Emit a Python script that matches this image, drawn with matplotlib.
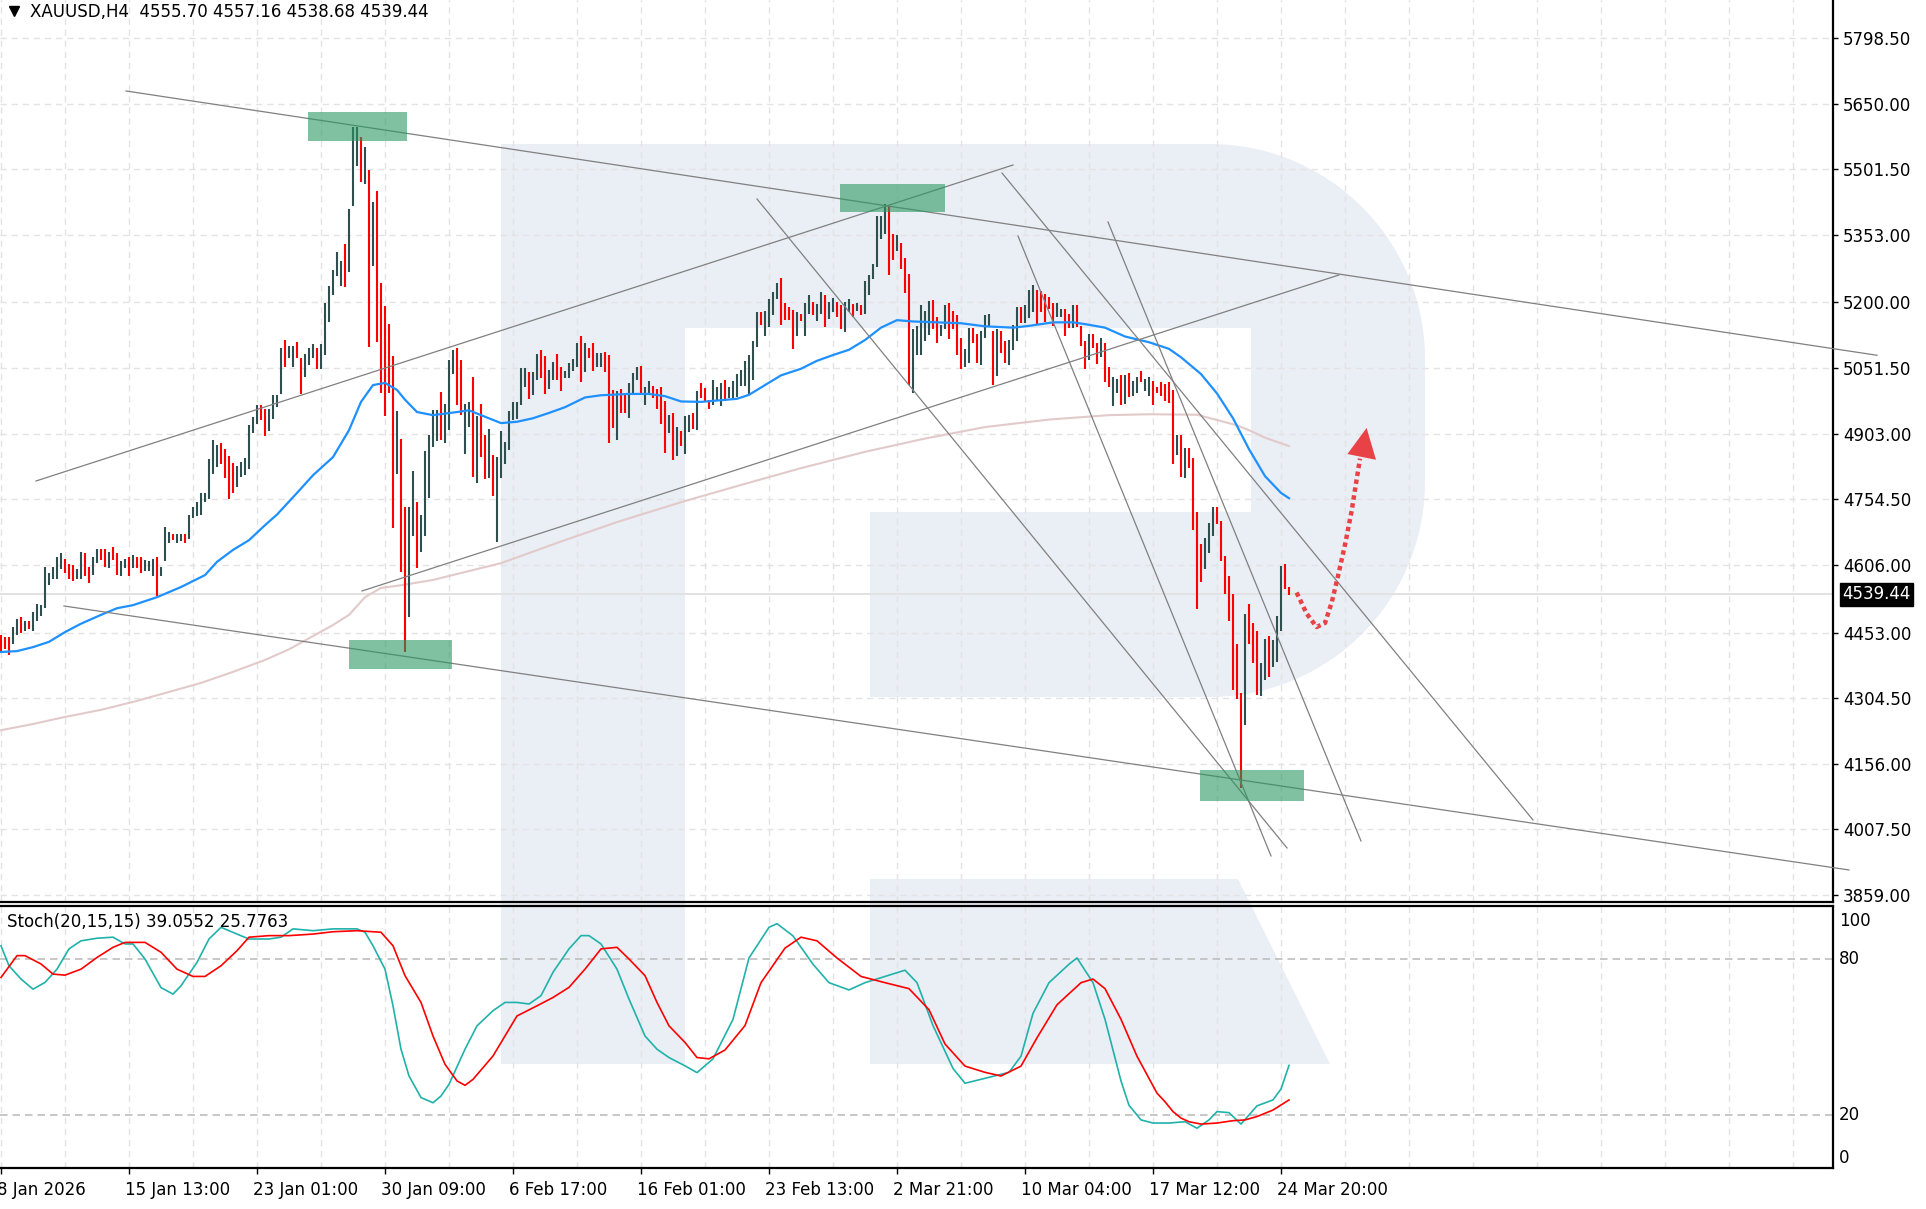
import matplotlib
matplotlib.use("Agg")
import matplotlib.pyplot as plt
import matplotlib.transforms as mtransforms
from matplotlib.patches import Rectangle, Polygon
import numpy as np

plt.rcParams['font.family'] = ['DejaVu Sans']

# ---------------- data ----------------
title_text = "XAUUSD,H4  4555.70 4557.16 4538.68 4539.44"
stoch_text = "Stoch(20,15,15) 39.0552 25.7763"
last_price = 4539.44
last_price_label = "4539.44"

bar_high = [
    4447, 4442, 4442, 4465, 4483, 4488, 4479, 4479, 4500, 4518,
    4516, 4601, 4587, 4601, 4623, 4633, 4619, 4609, 4605, 4597,
    4636, 4633, 4601, 4623, 4641, 4641, 4641, 4636, 4646, 4633,
    4615, 4620, 4623, 4628, 4623, 4623, 4617, 4615, 4620, 4623,
    4601, 4691, 4681, 4677, 4677, 4677, 4677, 4718, 4736, 4749,
    4769, 4768, 4845, 4889, 4878, 4882, 4868, 4853, 4837, 4831,
    4839, 4849, 4922, 4940, 4967, 4967, 4960, 4959, 4990, 4990,
    5098, 5115, 5102, 5102, 5110, 5075, 5084, 5098, 5107, 5098,
    5107, 5198, 5238, 5273, 5314, 5294, 5332, 5412, 5597, 5597,
    5575, 5552, 5500, 5427, 5453, 5245, 5192, 5152, 5079, 4954,
    4891, 4738, 4736, 4819, 4749, 4720, 4863, 4900, 4957, 4957,
    4998, 4970, 5070, 5092, 5098, 5070, 4970, 4975, 5032, 4942,
    4971, 4900, 4913, 4855, 4851, 4909, 4885, 4954, 4975, 4975,
    5052, 5052, 5042, 5042, 5084, 5092, 5079, 5048, 5065, 5084,
    5053, 5046, 5063, 5072, 5109, 5125, 5108, 5098, 5108, 5085,
    5085, 5089, 5080, 5003, 5000, 5004, 4993, 5018, 5040, 5054,
    5057, 5008, 5023, 5012, 5004, 5008, 4978, 4945, 4950, 4918,
    4909, 4943, 4945, 4950, 5000, 5018, 5007, 4980, 5025, 5008,
    5018, 5025, 5008, 5023, 5037, 5048, 5068, 5082, 5112, 5179,
    5179, 5181, 5207, 5224, 5243, 5256, 5198, 5190, 5183, 5179,
    5175, 5198, 5216, 5201, 5196, 5224, 5216, 5201, 5211, 5201,
    5194, 5201, 5208, 5196, 5198, 5194, 5248, 5262, 5288, 5396,
    5396, 5423, 5419, 5355, 5352, 5335, 5300, 5265, 5140, 5147,
    5194, 5180, 5203, 5205, 5167, 5149, 5194, 5198, 5180, 5171,
    5120, 5095, 5143, 5143, 5128, 5136, 5172, 5174, 5136, 5140,
    5136, 5112, 5116, 5149, 5190, 5190, 5195, 5229, 5239, 5229,
    5225, 5219, 5213, 5198, 5198, 5186, 5185, 5174, 5194, 5194,
    5147, 5112, 5128, 5128, 5109, 5120, 5109, 5053, 5031, 5027,
    5035, 5035, 5040, 5022, 5031, 5045, 5027, 5031, 5022, 5009,
    5019, 5016, 5019, 5002, 4901, 4901, 4870, 4870, 4847, 4725,
    4653, 4667, 4702, 4738, 4738, 4706, 4627, 4582, 4541, 4427,
    4317, 4496, 4518, 4475, 4456, 4384, 4438, 4446, 4436, 4490,
    4603, 4609, 4557,
]
bar_low = [
    4411, 4416, 4403, 4426, 4448, 4452, 4457, 4461, 4457, 4480,
    4490, 4508, 4561, 4574, 4575, 4597, 4588, 4574, 4570, 4575,
    4575, 4580, 4565, 4583, 4610, 4617, 4601, 4598, 4617, 4583,
    4580, 4598, 4580, 4598, 4598, 4588, 4592, 4592, 4580, 4535,
    4580, 4615, 4656, 4662, 4656, 4661, 4656, 4664, 4712, 4716,
    4720, 4749, 4755, 4812, 4827, 4835, 4802, 4755, 4769, 4782,
    4806, 4810, 4823, 4905, 4926, 4934, 4897, 4909, 4936, 4964,
    4992, 5054, 5075, 5054, 5075, 4992, 5032, 5059, 5075, 5049,
    5049, 5081, 5156, 5217, 5260, 5238, 5234, 5269, 5418, 5508,
    5472, 5468, 5099, 5283, 5111, 4994, 4942, 4995, 4690, 4811,
    4591, 4409, 4488, 4671, 4599, 4636, 4672, 4757, 4874, 4886,
    4888, 4882, 4911, 5038, 4969, 4946, 4856, 4919, 4805, 4792,
    4851, 4801, 4802, 4761, 4657, 4803, 4834, 4865, 4934, 4937,
    4969, 5009, 4982, 4990, 5025, 5030, 4992, 5005, 5025, 5024,
    5000, 5028, 5029, 5046, 5055, 5019, 5043, 5074, 5046, 5055,
    5053, 5042, 4883, 4917, 4889, 4950, 4950, 4938, 4992, 5024,
    4995, 4969, 4992, 4984, 4960, 4924, 4860, 4905, 4843, 4853,
    4875, 4857, 4907, 4913, 4911, 4983, 4975, 4960, 4969, 4978,
    4965, 4978, 4983, 4983, 4986, 5010, 5010, 4992, 5025, 5100,
    5149, 5123, 5145, 5172, 5207, 5149, 5160, 5160, 5095, 5123,
    5158, 5123, 5175, 5172, 5158, 5175, 5145, 5163, 5179, 5168,
    5140, 5133, 5179, 5168, 5181, 5172, 5175, 5217, 5254, 5280,
    5343, 5355, 5262, 5295, 5316, 5275, 5221, 5014, 4996, 5081,
    5081, 5112, 5126, 5140, 5109, 5123, 5140, 5118, 5141, 5081,
    5050, 5054, 5064, 5109, 5064, 5058, 5120, 5146, 5014, 5033,
    5085, 5064, 5058, 5092, 5112, 5154, 5154, 5164, 5178, 5151,
    5178, 5155, 5186, 5147, 5167, 5167, 5123, 5143, 5143, 5145,
    5101, 5050, 5070, 5097, 5060, 5076, 5019, 5009, 4965, 4996,
    4969, 4971, 4985, 4988, 4996, 5019, 5000, 4988, 4969, 4996,
    4988, 4977, 4973, 4834, 4854, 4806, 4802, 4826, 4686, 4506,
    4568, 4597, 4634, 4671, 4699, 4614, 4541, 4479, 4322, 4303,
    4101, 4244, 4427, 4384, 4312, 4309, 4345, 4353, 4376, 4386,
    4456, 4552, 4539,
]
bar_up = [
    0, 0, 0, 1, 1, 0, 1, 0, 1, 1,
    1, 1, 1, 1, 1, 1, 0, 0, 0, 1,
    1, 0, 0, 1, 1, 0, 0, 1, 0, 0,
    1, 1, 0, 1, 0, 0, 1, 1, 1, 0,
    1, 1, 1, 0, 1, 1, 0, 1, 1, 1,
    1, 1, 1, 1, 1, 0, 0, 0, 0, 1,
    1, 1, 1, 1, 1, 0, 0, 1, 1, 1,
    1, 0, 1, 1, 0, 0, 1, 1, 1, 0,
    1, 1, 1, 1, 1, 1, 0, 1, 1, 1,
    0, 1, 0, 1, 0, 0, 0, 0, 0, 1,
    0, 0, 1, 1, 0, 1, 1, 1, 1, 1,
    0, 1, 1, 1, 0, 0, 1, 1, 0, 1,
    0, 0, 1, 0, 1, 1, 1, 1, 1, 1,
    1, 1, 0, 1, 1, 0, 0, 1, 1, 0,
    0, 1, 1, 1, 1, 0, 1, 0, 0, 1,
    1, 0, 0, 0, 1, 0, 0, 1, 1, 1,
    0, 1, 1, 0, 0, 0, 0, 1, 0, 1,
    0, 1, 1, 0, 1, 0, 0, 0, 1, 1,
    1, 0, 1, 1, 1, 1, 1, 1, 1, 1,
    0, 1, 1, 1, 1, 0, 0, 0, 0, 1,
    0, 1, 1, 0, 1, 1, 0, 1, 1, 0,
    0, 1, 1, 0, 1, 0, 1, 1, 1, 1,
    1, 1, 0, 0, 1, 0, 0, 0, 1, 1,
    1, 1, 1, 0, 0, 1, 1, 0, 0, 0,
    0, 1, 1, 0, 0, 1, 1, 1, 0, 1,
    0, 0, 1, 1, 1, 0, 1, 1, 1, 0,
    0, 0, 0, 0, 1, 1, 0, 0, 1, 0,
    0, 0, 1, 0, 0, 1, 0, 0, 1, 1,
    0, 1, 0, 1, 1, 0, 1, 1, 0, 0,
    0, 0, 0, 0, 1, 0, 1, 0, 0, 0,
    0, 1, 1, 1, 0, 0, 0, 0, 0, 0,
    0, 1, 0, 0, 0, 1, 1, 0, 1, 1,
    1, 0, 0,
]

# moving averages (bar index, price)
ma_fast_x = [0, 4, 8, 12, 16, 20, 25, 29, 33, 39, 45, 51, 54, 58, 62, 66, 69, 74, 78,
             83, 87, 90, 93, 96, 99, 101, 104, 108, 114, 117, 120, 125, 129, 133, 137,
             141, 146, 150, 157, 162, 166, 170, 175, 179, 184, 187, 191, 195, 200, 204,
             208, 212, 216, 220, 224, 228, 234, 240, 246, 253, 257, 263, 268, 271, 276,
             281, 287, 292, 295, 300, 304, 308, 312, 316, 320, 322]
ma_fast_y = [4409, 4411, 4420, 4432, 4454, 4473, 4493, 4508, 4515, 4533, 4556, 4583,
             4613, 4640, 4662, 4696, 4720, 4769, 4809, 4850, 4911, 4975, 5013, 5018,
             5002, 4980, 4952, 4945, 4952, 4956, 4945, 4927, 4930, 4938, 4950, 4963,
             4985, 4990, 4993, 4993, 4988, 4976, 4975, 4978, 4982, 4991, 5013, 5035,
             5050, 5068, 5081, 5093, 5115, 5143, 5160, 5157, 5155, 5153, 5146, 5143,
             5147, 5155, 5155, 5151, 5143, 5123, 5110, 5095, 5076, 5038, 4994, 4938,
             4868, 4807, 4769, 4757]

ma_slow_x = [0, 8, 16, 25, 33, 41, 50, 58, 66, 72, 75, 83, 87, 91, 95, 100, 108, 116,
             125, 140, 154, 170, 185, 200, 216, 231, 246, 262, 277, 287, 299, 304, 309,
             312, 316, 322]
ma_slow_y = [4232, 4246, 4262, 4278, 4296, 4316, 4339, 4364, 4391, 4415, 4430, 4470,
             4493, 4533, 4554, 4560, 4572, 4590, 4610, 4659, 4703, 4748, 4787, 4825,
             4862, 4892, 4918, 4935, 4945, 4947, 4946, 4934, 4922, 4911, 4894, 4875]

# stochastic (bar index, value)
stoch_main_x = [0, 2, 5, 8, 11, 14, 17, 20, 24, 28, 31, 33, 36, 40, 43, 45, 49, 52, 55,
                59, 62, 67, 70, 73, 78, 83, 89, 91, 93, 96, 98, 100, 102, 105, 108, 110,
                112, 116, 119, 123, 126, 129, 132, 135, 138, 142, 145, 147, 150, 154,
                157, 161, 164, 167, 171, 174, 178, 183, 187, 192, 194, 198, 203, 207,
                212, 216, 221, 226, 229, 233, 238, 241, 246, 252, 255, 258, 262, 267,
                269, 273, 276, 280, 282, 284, 285, 288, 292, 296, 299, 302, 304, 307,
                310, 312, 314, 318, 320, 322]
stoch_main_y = [85.1, 77.4, 72.3, 68.4, 71.0, 76.1, 83.9, 87.0, 88.0, 88.4, 85.8, 85.8,
                80.0, 69.0, 66.5, 69.7, 78.7, 87.7, 92.2, 89.6, 87.7, 87.7, 88.4, 91.6,
                90.9, 91.6, 91.6, 90.3, 85.1, 76.1, 62.0, 45.3, 35.0, 26.7, 24.7, 27.3,
                31.8, 45.3, 54.3, 60.1, 63.3, 63.3, 62.7, 65.9, 74.9, 83.9, 89.0, 89.0,
                85.8, 76.1, 64.6, 50.4, 45.3, 42.1, 38.9, 36.3, 41.6, 56.8, 80.4, 92.2,
                93.6, 88.9, 78.0, 70.9, 68.1, 70.9, 73.3, 75.7, 70.9, 54.4, 37.9, 32.2,
                34.1, 36.4, 42.6, 59.1, 70.9, 78.0, 80.4, 70.9, 56.8, 33.1, 23.7, 20.0,
                18.1, 16.9, 16.9, 17.4, 14.9, 18.1, 21.3, 20.9, 16.5, 20.0, 23.5, 25.8,
                30.0, 39.06]
stoch_signal_x = [0, 4, 6, 10, 13, 16, 20, 24, 28, 31, 36, 40, 44, 48, 51, 55, 59, 62,
                  67, 72, 78, 83, 89, 95, 98, 101, 105, 108, 111, 114, 116, 118, 123,
                  126, 129, 134, 138, 142, 146, 150, 154, 157, 161, 164, 167, 171, 174,
                  177, 181, 186, 190, 196, 200, 204, 209, 215, 221, 227, 232, 236, 241,
                  246, 250, 255, 259, 264, 270, 273, 276, 280, 284, 289, 291, 293, 295,
                  297, 300, 304, 308, 311, 314, 318, 322]
stoch_signal_y = [72.9, 81.3, 81.3, 78.1, 74.2, 73.8, 76.1, 80.6, 84.5, 86.4, 86.4, 82.6,
                  76.1, 73.3, 73.3, 77.4, 83.2, 88.4, 89.0, 89.0, 89.6, 90.5, 90.9, 90.3,
                  85.1, 73.6, 63.3, 50.4, 39.5, 33.1, 31.4, 33.7, 42.7, 50.4, 58.1, 62.0,
                  65.2, 69.1, 76.1, 83.9, 84.5, 80.0, 73.6, 63.3, 54.3, 47.9, 42.1, 41.6,
                  45.0, 54.4, 70.9, 84.2, 88.4, 87.0, 80.4, 73.3, 70.9, 68.6, 60.5, 47.3,
                  38.8, 36.4, 35.0, 38.8, 49.7, 62.4, 70.9, 72.3, 68.6, 56.8, 42.6, 28.4,
                  25.1, 21.3, 18.8, 17.4, 16.5, 16.9, 17.8, 18.1, 19.4, 21.9, 25.78]

price_ticks = [5798.5, 5650.0, 5501.5, 5353.0, 5200.0, 5051.5, 4903.0, 4754.5, 4606.0,
               4453.0, 4304.5, 4156.0, 4007.5, 3859.0]
price_tick_labels = ["5798.50", "5650.00", "5501.50", "5353.00", "5200.00", "5051.50",
                     "4903.00", "4754.50", "4606.00", "4453.00", "4304.50", "4156.00",
                     "4007.50", "3859.00"]
time_tick_bars = [0, 32, 64, 96, 128, 160, 192, 224, 256, 288, 320]
time_tick_labels = ["8 Jan 2026", "15 Jan 13:00", "23 Jan 01:00", "30 Jan 09:00",
                    "6 Feb 17:00", "16 Feb 01:00", "23 Feb 13:00", "2 Mar 21:00",
                    "10 Mar 04:00", "17 Mar 12:00", "24 Mar 20:00"]
stoch_levels = [100, 80, 20, 0]
stoch_level_labels = ["100", "80", "20", "0"]

# analysis drawings (bar index, price)
trend_lines = [
    ((31.25, 5678.6), (469.0, 5080.5)),
    ((15.75, 4513.1), (462.0, 3915.7)),
    ((8.75, 4796.0), (253.0, 5511.1)),
    ((90.25, 4547.1), (334.5, 5262.2)),
    ((189.0, 5434.2), (321.5, 3965.5)),
    ((250.25, 5493.0), (383.0, 4028.8)),
    ((254.25, 5350.4), (317.5, 3947.4)),
    ((276.75, 5382.1), (340.0, 3981.3)),
]
zones = [  # x0, x1, price top, price bottom
    (76.75, 101.5, 5631.0, 5565.4),
    (209.75, 236.0, 5468.1, 5404.7),
    (87.0, 112.75, 4436.2, 4370.5),
    (299.75, 325.75, 4141.9, 4071.8),
]
arrow_path_x = [323.9, 326.4, 328.9, 331.0, 332.7, 334.3, 336.0, 337.7, 338.9, 339.75]
arrow_path_y = [4543.6, 4496.0, 4465.6, 4474.6, 4522.0, 4582.5, 4651.8, 4730.0, 4799.0, 4846.6]
arrow_head = [(341.4, 4916.0), (336.6, 4857.0), (343.75, 4844.0)]

# ---------------- figure ----------------
W, H = 1926, 1209
fig = plt.figure(figsize=(W / 100, H / 100), dpi=100)
fig.patch.set_facecolor("white")


def fy(py):
    return 1 - py / H


# watermark background
bg = fig.add_axes([0, 0, 1, 1], zorder=0)
bg.set_xlim(0, W)
bg.set_ylim(H, 0)
bg.axis("off")
wm = "#EAEEF5"
bg.add_patch(Rectangle((501, 144), 184, 920, color=wm, lw=0))
x0, y0, x1, y1, r1, r2 = 501, 144, 1425, 697, 215, 215
t1 = np.linspace(-np.pi / 2, 0, 40)
t2 = np.linspace(0, np.pi / 2, 40)
pts = [(x0, y0), (x1 - r1, y0)]
pts += list(zip(x1 - r1 + r1 * np.cos(t1), y0 + r1 + r1 * np.sin(t1)))
pts += list(zip(x1 - r2 + r2 * np.cos(t2), y1 - r2 + r2 * np.sin(t2)))
pts += [(x0, y1)]
bg.add_patch(Polygon(pts, closed=True, color=wm, lw=0))
bg.add_patch(Rectangle((685, 328), 566, 184, color="white", lw=0))
bg.add_patch(Rectangle((685, 512), 185, 185, color="white", lw=0))
bg.add_patch(Polygon([(870, 879), (1238, 879), (1330, 1064), (870, 1064)], closed=True,
                     color=wm, lw=0))
bg.plot([14], [11], marker="v", ms=7, color="black", lw=0)

# main axes
AX_RIGHT = 1833
XR = (AX_RIGHT - 1) / 4.0
ax = fig.add_axes([0, fy(902), AX_RIGHT / W, 902 / H], zorder=2)
ax.set_facecolor("none")
ax.set_xlim(-0.25, XR)
ax.set_ylim(3843.2, 5884.5)

ax2 = fig.add_axes([0, fy(1168), AX_RIGHT / W, (1168 - 906) / H], zorder=2)
ax2.set_facecolor("none")
ax2.set_xlim(-0.25, XR)
ax2.set_ylim(-0.4, 100.4)

for a in (ax, ax2):
    a.spines["left"].set_visible(False)
    for s in ("right", "bottom", "top"):
        a.spines[s].set_color("black")
        a.spines[s].set_linewidth(1.6)
ax.spines["top"].set_visible(False)

grid_kw = dict(color="#E3E3E3", lw=1.0, dashes=(4.5, 3.5), zorder=1)
for gx in range(0, 460, 16):
    ax.axvline(gx, **grid_kw)
    ax2.axvline(gx, **grid_kw)
for p in price_ticks:
    ax.axhline(p, **grid_kw)

ax.yaxis.tick_right()
ax.set_yticks(price_ticks)
ax.set_yticklabels(price_tick_labels)
ax.tick_params(axis="y", length=3.5, width=1, pad=3.6, labelsize=12, colors="black")
ax.set_xticks([])

# current price line
ax.axhline(last_price, color="#E2E2E2", lw=1.4, zorder=1.5)

# bars
n = min(len(bar_high), len(bar_low), len(bar_up))
xs = np.arange(n)
cols = ["#2F4F4F" if u else "#FF0000" for u in bar_up[:n]]
ax.vlines(xs, bar_low[:n], bar_high[:n], colors=cols, lw=1.5, zorder=3)

# moving averages
ax.plot(ma_slow_x, ma_slow_y, color="#E2CACA", lw=1.5, zorder=2.5)
ax.plot(ma_fast_x, ma_fast_y, color="#1E90FF", lw=1.6, zorder=4)

# trend lines
for (xa, pa), (xb, pb) in trend_lines:
    ax.plot([xa, xb], [pa, pb], color="#808080", lw=0.9, zorder=5, clip_on=False)

# zones
for zx0, zx1, zt, zb in zones:
    ax.add_patch(Rectangle((zx0, zb), zx1 - zx0, zt - zb, facecolor=(42 / 255, 152 / 255, 97 / 255),
                           alpha=0.6, lw=0, zorder=6))

# forecast arrow
ax.plot(arrow_path_x, arrow_path_y, color="#E84246", lw=3.2, dashes=(1.0, 0.8),
        dash_capstyle="butt", zorder=7, clip_on=False)
ax.add_patch(Polygon(arrow_head, closed=True, color="#E84246", lw=0, zorder=7))

# price tag
ax.annotate(last_price_label, xy=(1.0, last_price), xycoords=("axes fraction", "data"),
            xytext=(9, 0), textcoords="offset pixels", ha="left", va="center",
            color="white", fontsize=12, zorder=10, annotation_clip=False,
            bbox=dict(boxstyle="square,pad=0.15", fc="black", ec="black"))

# stochastic
ax2.plot(stoch_main_x, stoch_main_y, color="#20B2AA", lw=1.2, zorder=3)
ax2.plot(stoch_signal_x, stoch_signal_y, color="#FF0000", lw=1.2, zorder=3)
for lv in (80, 20):
    ax2.axhline(lv, color="#BDBDBD", lw=1.2, dashes=(4.5, 3.0), zorder=2)
ax2.set_yticks([])
for v, s in zip(stoch_levels, stoch_level_labels):
    va = "top" if v == 100 else ("bottom" if v == 0 else "center")
    dy = -5 if v == 100 else 0
    tr = mtransforms.blended_transform_factory(ax2.transAxes, ax2.transData) + \
        mtransforms.ScaledTranslation(6 / 100, dy / 100, fig.dpi_scale_trans)
    ax2.text(1.0, v, s, transform=tr, ha="left", va=va, fontsize=12, clip_on=False)

ax2.set_xticks(time_tick_bars)
ax2.set_xticklabels(time_tick_labels)
ax2.tick_params(axis="x", length=4.5, width=1, pad=5, labelsize=12, colors="black")
shift = mtransforms.ScaledTranslation(-4 / 100, 0, fig.dpi_scale_trans)
for lbl in ax2.get_xticklabels():
    lbl.set_horizontalalignment("left")
    lbl.set_transform(lbl.get_transform() + shift)

# texts
fig.text(30 / W, fy(12), title_text, fontsize=12, va="center", ha="left")
fig.text(7 / W, fy(922), stoch_text, fontsize=12, va="center", ha="left")

fig.savefig("out.png", dpi=100, facecolor="white")
